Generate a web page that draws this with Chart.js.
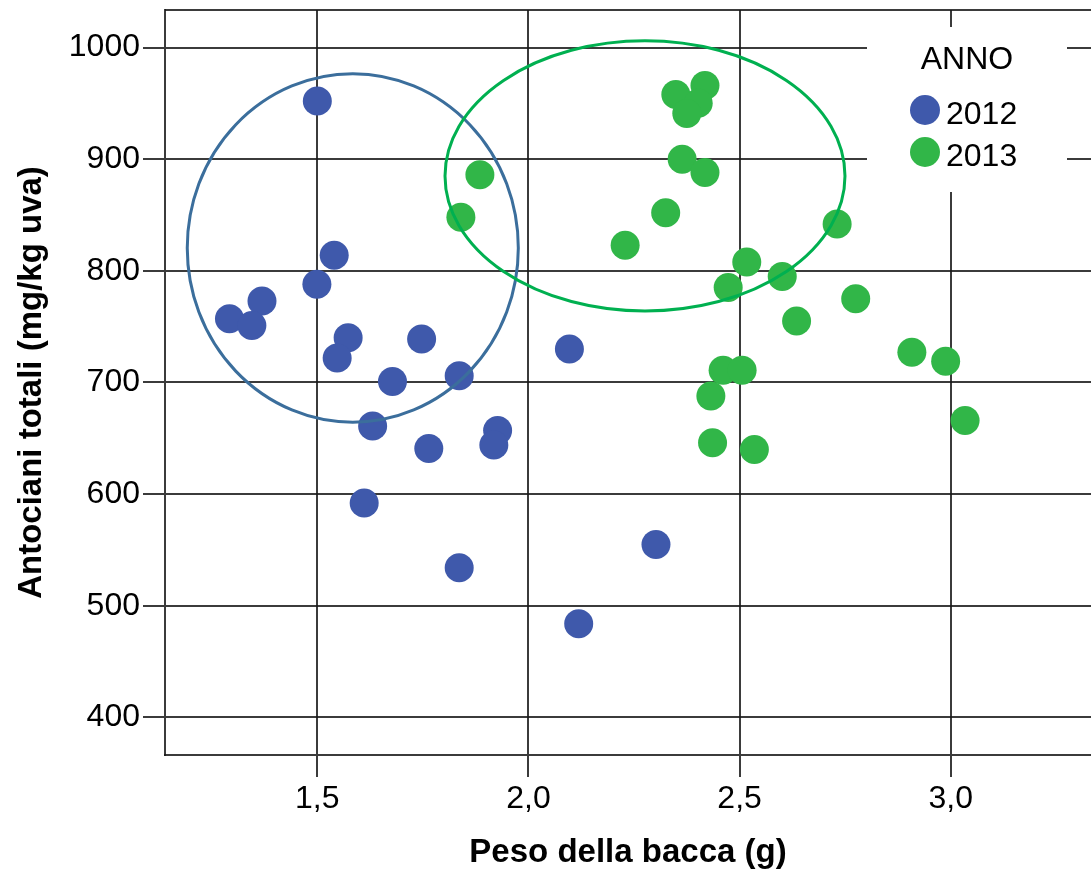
<!DOCTYPE html>
<html>
<head>
<meta charset="utf-8">
<script src="https://cdn.jsdelivr.net/npm/chart.js@4"></script>
<style>
    body { margin: 0; background: #fff; }
    #wrap { width: 1091px; height: 877px; }
</style>
</head>
<body>
<div id="wrap"><canvas id="chartCanvas" width="1091" height="877"></canvas></div>
<script>
// -------- DATA --------
const years = ["2012", "2013"];

const peso2012 = [1.500, 1.540, 1.499, 1.369, 1.292, 1.345, 1.573, 1.547, 1.747, 1.678,
                  1.836, 1.631, 1.764, 1.927, 1.918, 1.611, 1.836, 2.119, 2.097, 2.302];
const anto2012 = [952, 814, 788, 773, 757, 751, 740, 722, 739, 701,
                  706, 661, 641, 657, 644, 592, 534, 484, 730, 555];

const peso2013 = [1.885, 1.840, 2.349, 2.418, 2.402, 2.375, 2.364, 2.418, 2.325, 2.229,
                  2.517, 2.473, 2.731, 2.601, 2.775, 2.635, 2.908, 2.988, 2.461, 2.506,
                  2.432, 2.436, 2.535, 3.034];
const anto2013 = [886, 848, 958, 966, 950, 941, 900, 888, 852, 823,
                  808, 785, 842, 795, 775, 755, 727, 719, 711, 711,
                  688, 646, 640, 666];

const xTicks = [1.5, 2.0, 2.5, 3.0];
const yTicks = [400, 500, 600, 700, 800, 900, 1000];

// ellipses drawn round each group: centre x, centre y, radius x, radius y (data units)
const ring2012 = [1.584, 820.5, 0.392, 156];
const ring2013 = [2.276, 885, 0.4736, 121];

const FONT = "'Liberation Sans', Arial, sans-serif";
const GRID = "rgba(25,25,25,0.85)";

function toPoints(xs, ys) {
    return xs.map((x, i) => ({ x: x, y: ys[i] }));
}

const groups = [
    { label: years[0], data: toPoints(peso2012, anto2012), color: "#3f59ab", ring: ring2012, ringColor: "#3b6e9c" },
    { label: years[1], data: toPoints(peso2013, anto2013), color: "#31b648", ring: ring2013, ringColor: "#00b050" }
];

// -------- PLUGINS --------
const framePlugin = {
    id: "frame",
    beforeDatasetsDraw(chart) {
        const ctx = chart.ctx;
        const a = chart.chartArea;
        ctx.save();
        ctx.strokeStyle = GRID;
        ctx.lineWidth = 2;
        ctx.beginPath();
        ctx.moveTo(a.left, a.top);
        ctx.lineTo(a.right, a.top);
        ctx.stroke();
        ctx.restore();
    }
};

const ringPlugin = {
    id: "rings",
    afterDatasetsDraw(chart) {
        const ctx = chart.ctx;
        const xs = chart.scales.x;
        const ys = chart.scales.y;
        ctx.save();
        groups.forEach(g => {
            const [cx, cy, rx, ry] = g.ring;
            const px = xs.getPixelForValue(cx);
            const py = ys.getPixelForValue(cy);
            const prx = Math.abs(xs.getPixelForValue(cx + rx) - px);
            const pry = Math.abs(ys.getPixelForValue(cy + ry) - py);
            ctx.strokeStyle = g.ringColor;
            ctx.lineWidth = 3;
            ctx.beginPath();
            ctx.ellipse(px, py, prx, pry, 0, 0, Math.PI * 2);
            ctx.stroke();
        });
        ctx.restore();
    }
};

const legendPlugin = {
    id: "annoLegend",
    afterDatasetsDraw(chart) {
        const ctx = chart.ctx;
        const a = chart.chartArea;
        const left = a.right - 224;
        const top = a.top + 17;
        ctx.save();
        ctx.fillStyle = "#fff";
        ctx.fillRect(left, top, 200, 165);

        ctx.fillStyle = "#000";
        ctx.font = "32px " + FONT;
        ctx.textBaseline = "middle";
        ctx.textAlign = "center";
        ctx.fillText("ANNO", left + 100, top + 33);

        ctx.textAlign = "left";
        groups.forEach((g, i) => {
            const rowY = top + 87 + i * 42;
            ctx.fillStyle = g.color;
            ctx.beginPath();
            ctx.arc(left + 58, rowY - 4, 15, 0, Math.PI * 2);
            ctx.fill();
            ctx.fillStyle = "#000";
            ctx.fillText(g.label, left + 79, rowY + 1);
        });
        ctx.restore();
    }
};

// -------- CHART --------
const ctx = document.getElementById("chartCanvas").getContext("2d");

new Chart(ctx, {
    type: "scatter",
    data: {
        datasets: groups.map(g => ({
            label: g.label,
            data: g.data,
            backgroundColor: g.color,
            pointRadius: 14.5,
            pointHoverRadius: 14.5,
            pointBorderWidth: 0
        }))
    },
    options: {
        responsive: false,
        animation: false,
        layout: { autoPadding: false, padding: { top: 10, left: 0, right: 0, bottom: 0 } },
        plugins: {
            legend: { display: false },
            tooltip: { enabled: false }
        },
        scales: {
            x: {
                type: "linear",
                min: 1.1393,
                max: 3.3322,
                afterBuildTicks: scale => { scale.ticks = xTicks.map(v => ({ value: v })); },
                afterFit: scale => {
                    scale.height = 122;
                    scale.paddingLeft = 0;
                    scale.paddingRight = 0;
                },
                grid: { color: GRID, lineWidth: 2, tickLength: 22 },
                border: { color: GRID, width: 2 },
                ticks: {
                    color: "#000",
                    padding: 3,
                    maxRotation: 0,
                    font: { family: FONT, size: 32 },
                    callback: v => v.toFixed(1).replace(".", ",")
                },
                title: {
                    display: true,
                    text: "Peso della bacca (g)",
                    color: "#000",
                    font: { family: FONT, size: 33, weight: "bold" },
                    padding: { top: 0, bottom: 4 }
                }
            },
            y: {
                type: "linear",
                min: 366.4,
                max: 1033.6,
                afterBuildTicks: scale => { scale.ticks = yTicks.map(v => ({ value: v })); },
                afterFit: scale => {
                    scale.width = 165;
                    scale.paddingTop = 0;
                    scale.paddingBottom = 0;
                },
                grid: { color: GRID, lineWidth: 2, tickLength: 22 },
                border: { color: GRID, width: 2 },
                ticks: {
                    color: "#000",
                    padding: 3,
                    font: { family: FONT, size: 32 },
                    callback: v => String(v)
                },
                title: {
                    display: true,
                    text: "Antociani totali (mg/kg uva)",
                    color: "#000",
                    font: { family: FONT, size: 33, weight: "bold" },
                    padding: { top: 12, bottom: 0 }
                }
            }
        }
    },
    plugins: [framePlugin, legendPlugin, ringPlugin]
});
</script>
</body>
</html>
